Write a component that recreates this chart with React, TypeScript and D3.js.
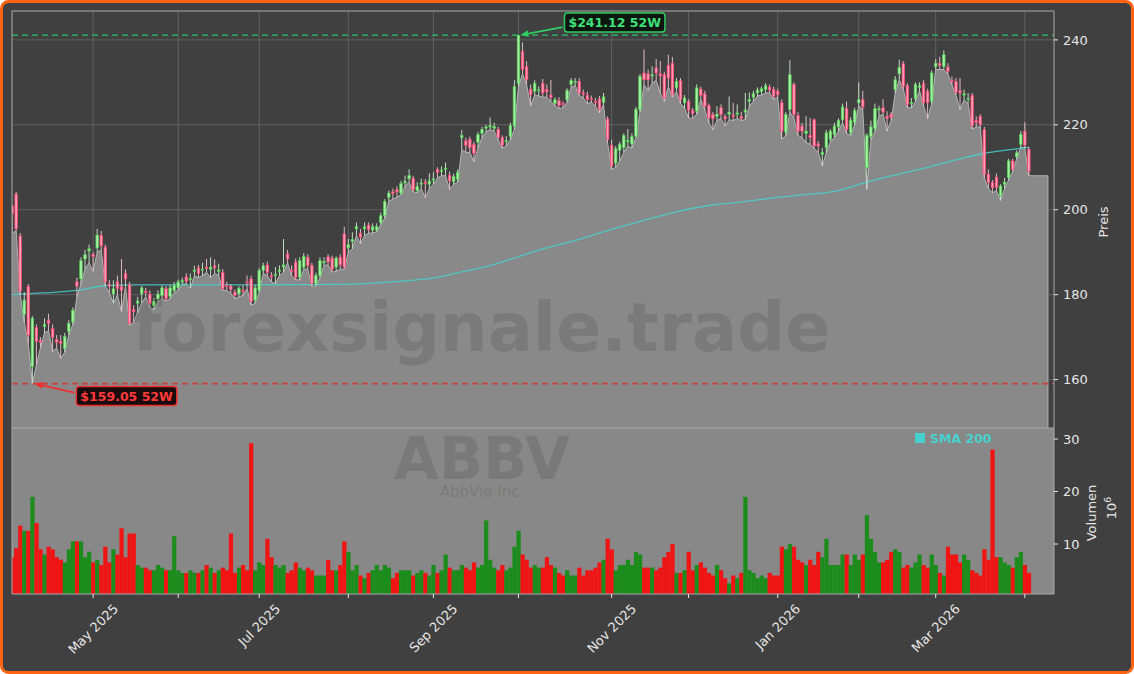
import React from 'react';
import * as d3 from 'd3';

// ---------- data (index = trading day, 2025-04-02 .. 2026-04-02) ----------
const OPEN = [200.8,203.7,193.8,175.4,181.9,163.1,172.3,169.2,172.5,174.0,172.0,169.5,169.0,167.3,171.3,173.6,183.0,183.7,188.4,190.3,
189.5,191.0,193.9,191.2,182.5,180.2,183.0,182.0,185.0,182.3,176.5,178.0,180.2,180.8,180.1,177.4,179.0,179.8,181.4,179.6,
181.0,181.6,183.0,184.2,183.5,185.5,186.3,185.8,186.5,186.0,186.8,185.5,185.2,182.2,182.0,180.6,180.2,181.0,183.0,183.7,
178.7,181.0,185.7,187.0,184.5,184.5,185.5,186.5,189.6,185.8,187.7,184.2,186.5,188.8,186.9,182.6,184.5,187.5,188.9,188.6,
186.5,188.8,194.3,191.0,192.5,195.5,194.5,195.5,196.4,195.2,195.2,197.0,198.6,202.9,204.2,204.7,203.9,206.3,207.3,207.4,
204.5,206.0,206.5,206.0,207.0,209.5,209.0,209.5,208.1,206.6,207.2,217.0,216.2,216.6,215.4,215.9,218.0,219.2,219.5,219.2,
218.9,217.0,216.0,217.3,219.7,229.8,237.3,233.7,228.4,227.9,228.0,229.8,228.3,227.0,225.0,225.7,225.0,225.9,229.5,230.0,
230.2,227.5,227.0,226.2,225.5,226.1,225.3,221.4,215.2,211.0,214.0,214.6,216.0,215.5,217.3,223.6,232.2,232.0,231.5,233.4,
232.0,231.8,234.0,234.5,228.7,230.4,225.2,225.5,223.4,223.2,228.4,227.3,224.5,222.4,222.0,224.0,221.9,222.5,222.3,222.5,
222.0,223.0,225.5,226.5,227.5,227.8,228.3,228.9,228.3,227.9,225.2,218.3,223.6,229.5,222.2,219.7,218.0,217.5,221.2,215.5,
213.0,214.6,216.6,217.7,219.5,221.2,223.8,218.1,220.6,225.2,225.9,209.9,217.2,219.1,223.5,224.0,222.0,222.5,228.3,232.0,
234.4,229.2,225.0,226.1,228.8,229.8,227.9,225.5,233.7,234.5,233.7,233.6,230.5,230.2,228.0,227.0,226.0,226.9,221.0,222.0,
218.9,208.4,206.4,207.7,203.3,206.0,207.6,211.5,212.5,215.4,218.5,214.2];
const HIGH = [201.2,204.2,194.5,180.6,182.5,175.0,173.0,170.0,174.4,175.5,173.0,170.5,170.5,171.0,174.0,177.0,184.0,188.8,190.5,191.8,
190.0,195.5,195.0,191.8,183.5,183.4,184.5,188.4,186.0,183.0,177.5,179.5,182.0,181.6,181.0,179.2,181.0,182.2,182.0,182.3,
183.0,183.5,184.0,185.0,185.0,186.8,187.0,187.5,188.4,188.8,188.3,187.3,186.0,183.0,182.5,181.2,182.0,182.2,184.5,184.5,
182.2,186.2,187.5,187.8,185.3,186.5,186.9,193.1,190.5,186.9,188.5,188.8,189.8,189.5,187.5,185.2,188.8,188.8,189.5,189.2,
189.0,189.5,196.0,193.1,194.7,197.0,195.5,197.0,197.0,196.8,196.8,199.3,202.5,204.5,205.0,205.5,206.8,208.0,209.5,208.0,
206.5,207.3,207.2,208.6,208.8,210.0,210.2,211.1,209.0,208.5,209.5,218.8,217.0,217.2,216.0,218.3,219.5,220.0,221.7,220.5,
219.5,217.5,217.3,220.5,230.5,241.12,239.4,235.0,229.5,230.5,229.0,230.8,229.5,230.6,226.5,226.5,225.5,228.6,231.0,231.0,
231.0,228.3,227.8,226.9,226.3,226.8,227.5,222.0,216.5,215.0,216.0,218.0,219.0,218.0,224.2,232.0,237.7,233.0,233.8,235.5,
235.0,232.5,236.5,236.0,231.0,231.0,227.0,226.0,224.0,229.5,229.0,228.0,225.0,223.0,224.4,224.8,222.5,226.7,225.2,224.8,
223.0,227.5,227.6,228.0,228.8,229.0,229.8,229.5,229.0,228.5,226.0,223.0,235.2,230.0,223.0,220.5,222.0,221.6,221.5,216.2,
214.6,218.8,219.0,220.5,221.5,225.0,225.5,221.8,224.0,230.0,228.0,218.0,221.0,225.0,224.5,226.0,223.2,223.0,231.5,235.3,
235.0,229.8,226.3,230.0,230.0,230.5,228.5,232.8,235.5,236.0,237.5,234.5,231.4,231.0,231.0,228.3,227.5,227.5,222.0,222.5,
219.5,209.5,207.0,208.5,206.0,207.5,212.0,212.0,214.0,218.5,220.6,214.8];
const LOW = [194.5,195.0,180.0,173.5,168.5,159.05,163.5,167.5,171.0,171.5,166.6,167.5,165.0,166.5,170.5,173.0,179.5,182.5,186.0,187.5,
185.5,190.0,190.5,182.0,180.5,178.0,180.0,176.0,182.0,172.8,173.5,176.0,178.0,179.5,177.0,176.5,178.3,179.0,178.5,179.0,
180.5,181.0,182.5,182.5,181.5,184.5,184.0,184.5,185.3,184.0,185.0,184.5,181.0,181.0,180.3,179.0,179.5,179.8,181.4,177.5,
178.0,180.5,185.0,184.5,183.0,182.6,184.5,185.3,187.5,184.5,183.5,183.5,186.0,186.0,182.0,182.0,184.0,186.9,187.0,185.3,
185.5,186.0,186.0,190.0,190.8,193.9,192.0,193.9,194.5,194.5,194.8,196.5,198.0,202.0,202.5,203.0,203.5,205.5,206.5,204.2,
204.0,205.0,202.8,205.0,206.0,207.5,208.0,208.0,204.8,206.0,206.5,214.2,213.5,213.5,211.3,214.5,217.0,218.3,218.9,218.5,
216.5,214.5,215.0,216.5,219.0,229.0,232.0,229.5,224.5,227.0,226.8,226.5,226.5,225.5,224.5,223.8,224.0,225.3,228.8,229.3,
227.0,226.3,225.0,225.3,224.4,222.8,224.8,215.8,209.5,210.0,211.5,213.5,215.0,214.5,217.0,223.0,229.5,228.0,229.8,230.5,
227.5,225.5,229.0,226.5,227.8,225.0,224.0,221.6,221.5,222.5,226.0,223.5,220.5,218.8,221.0,221.5,219.7,221.2,221.0,221.5,
221.0,221.2,224.4,225.5,226.8,227.0,227.5,227.5,226.0,226.5,216.6,217.5,223.0,221.5,217.5,217.0,215.8,215.4,214.5,213.5,
210.3,213.5,216.0,217.0,218.5,220.5,218.0,217.5,220.0,224.5,223.5,204.8,216.5,218.5,222.0,222.5,218.5,221.0,227.5,230.6,
228.5,224.0,224.0,225.5,228.0,224.5,221.4,225.0,233.0,233.0,233.0,232.0,229.5,227.0,223.6,225.9,225.0,219.0,219.5,219.5,
207.5,205.0,204.0,204.5,202.2,205.0,207.0,209.0,212.0,214.8,214.5,208.0];
const CLOSE = [199.0,195.5,180.9,178.7,170.5,174.4,169.0,168.8,173.0,173.2,170.0,168.8,168.5,170.2,173.2,176.3,182.0,188.0,189.4,190.8,
189.0,194.0,191.5,183.0,182.0,181.4,181.5,181.0,183.7,173.2,176.0,178.5,181.6,180.5,177.9,178.4,180.1,181.6,179.0,181.6,
182.2,183.0,183.3,183.1,183.8,185.8,185.0,186.0,186.2,186.5,186.3,185.8,181.4,182.0,181.2,179.8,181.5,180.8,182.8,178.4,
181.6,185.7,186.8,185.2,184.2,184.8,185.8,187.0,188.4,185.5,184.0,188.0,189.0,186.9,182.6,184.5,188.0,187.8,187.7,186.0,
188.6,187.0,186.5,191.8,193.0,196.0,193.5,196.0,195.3,196.0,196.0,198.6,201.9,203.9,203.8,204.2,206.2,206.7,208.1,204.7,
205.5,206.3,206.2,206.8,207.3,208.8,209.3,209.8,206.8,207.8,208.8,217.5,215.2,214.6,213.3,217.7,218.9,219.5,219.8,219.6,
217.0,215.2,216.3,219.8,229.0,241.0,233.0,230.6,227.1,229.7,228.2,227.5,227.8,226.5,225.9,224.5,224.8,228.1,230.4,230.2,
227.5,227.2,226.0,226.0,225.2,223.6,226.6,216.6,210.3,214.4,215.4,217.5,216.3,217.2,223.6,231.4,230.6,230.6,231.8,232.2,
231.5,226.3,231.0,227.1,230.2,225.9,226.3,223.4,222.7,228.7,226.9,224.4,221.6,221.4,222.5,222.4,221.4,223.0,222.0,222.8,
221.5,223.5,226.0,227.3,228.2,228.5,229.2,228.2,226.7,227.1,218.5,222.4,231.8,222.4,218.5,218.5,218.5,217.0,215.0,215.0,
213.5,218.1,218.5,219.7,221.0,224.2,218.9,221.0,223.4,225.9,224.2,217.5,219.5,223.8,223.8,223.0,221.5,221.8,230.6,233.5,
229.1,224.8,225.3,229.5,229.2,225.2,225.2,232.2,234.5,234.0,236.5,232.6,230.2,227.7,227.5,227.3,226.2,219.8,220.5,220.0,
208.4,206.4,205.2,205.2,205.6,206.5,211.5,209.5,213.4,217.7,215.2,209.1];
// volume in millions
const VOLUME = [7.5,9.2,13.5,12.5,12.5,19,14,9,8,9.5,9,7.5,7,6.5,9,10.5,10.5,10.5,7.5,8.5,
6.5,7,6,9.5,6.5,9,8,13,7.5,12,12,6,5.5,5.5,5,5,6,5.5,5,5,
11.5,5,4.5,4.5,5,4.5,4.5,5,6,5.5,4.5,5,5.5,5,12,4.5,5.5,6,5,29.2,
5,6.5,6,11,7.5,6,5.5,6,4.5,5,6.5,5.5,5,5.5,5,4,4,4,7,5,
5,6,10.5,8.5,5,6,4,3.5,4.5,5,6,5,6,5.5,3.5,4.5,5,5,5,4,
4.5,5,4.5,4,6,4.5,5,8,5.5,5,5,6,5.5,5,6.5,5.5,6,14.5,7,5.5,
5,6,5,5.5,9.5,12.5,8,7,5.5,6,5.5,5.5,7.5,6,5.5,4.5,4,5,4,4,
5.5,4,5,5,5.5,6.5,7,11,9,5,6,6,7,6,8.5,8,5.5,5.5,5.5,5,
5.5,7.5,8.5,10,4.5,4.5,5,8.5,5,6,6.5,5.5,4.5,4,6,5,3.5,2.5,4,3.5,
4.5,19,5,4.5,3.5,4,3.5,4.5,4,4,9.5,9,10,9.5,7,6.5,6,7,6,8.5,
7.5,11,6,6,6,8,8,6,8,7,8,15.5,11,8.5,6.5,6.5,7,8.5,9,8.5,
5.5,6,5.5,6.5,8,6,5.5,8,6,4.5,4,9.5,8,8,6.5,8,7,5,4.5,4,
9,7,28,7.5,7.5,6.5,6,5.5,7.5,8.5,6,4.5];
// SMA 200 read at sample days
const SMA_IDX = [0,8,16,23,30,40,60,80,90,100,104,112,117,124,130,140,148,156,164,172,180,188,196,203,211,218,226,234,240,246,251];
const SMA_VAL = [180.0,180.4,181.0,182.1,182.3,182.3,182.3,182.4,182.8,183.5,183.9,185.6,186.6,188.6,190.5,193.0,195.4,197.5,199.5,201.0,201.8,202.8,203.6,204.3,206.5,208.2,210.0,212.0,213.3,214.1,214.7];
const MONTH_TICK_IDX = [20,41,61,83,104,125,148,167,189,209,228,250];
const MONTH_TICK_LABEL = ['May 2025','','Jul 2025','','Sep 2025','','Nov 2025','','Jan 2026','','Mar 2026',''];
const PRICE_TICKS = [160,180,200,220,240];
const VOL_TICKS = [10,20,30];
const HIGH_52W = { idx: 125, value: 241.12, label: '$241.12 52W' };
const LOW_52W = { idx: 5, value: 159.05, label: '$159.05 52W' };
const FILL_END_IDX = 255.7;
const X_DOMAIN = [0, 257.2];
const PRICE_DOMAIN = [148.6, 246.8];
const VOL_DOMAIN = [0.48, 32.1];

const FONT = '"DejaVu Sans", Verdana, sans-serif';

function textWidth(s: string, font: string): number {
  const c = document.createElement('canvas').getContext('2d');
  if (!c) return s.length * 7.5;
  c.font = font;
  return c.measureText(s).width;
}

export default function App() {
  const W = 1134, H = 674;
  const L = 12, R = 1054, PT = 11, PB = 428, VT = 428, VB = 594;
  const x = d3.scaleLinear().domain(X_DOMAIN).range([12.1, R]);
  const yP = d3.scaleLinear().domain(PRICE_DOMAIN).range([PB, PT]);
  const yV = d3.scaleLinear().domain(VOL_DOMAIN).range([VB, VT]);
  const step = x(1) - x(0);
  const bodyW = step * 0.62;

  const n = CLOSE.length;
  const idx = d3.range(n);
  const lastLow = LOW[n - 1];

  const fillPts: [number, number][] = idx.map(i => [x(i), yP(LOW[i])]);
  fillPts.push([x(FILL_END_IDX), yP(lastLow)]);
  const areaPath = d3.area<[number, number]>().x(d => d[0]).y0(PB).y1(d => d[1])(fillPts) || '';
  const edgePts = [...fillPts, [x(FILL_END_IDX), PB] as [number, number]];
  const edgePath = d3.line()(edgePts) || '';

  const smaPath = d3.line<number>().x((_, k) => x(SMA_IDX[k])).y(v => yP(v)).curve(d3.curveMonotoneX)(SMA_VAL) || '';

  const green = '#1c8c1c', red = '#f01414';
  const hiX = x(HIGH_52W.idx), hiY = yP(HIGH_52W.value);
  const loX = x(LOW_52W.idx), loY = yP(LOW_52W.value);

  const annFont = `bold 12.5px ${FONT}`;
  const hiW = textWidth(HIGH_52W.label, annFont) + 8;
  const loW = textWidth(LOW_52W.label, annFont) + 8;
  const hiBox = { x: hiX + 46, y: hiY - 22, w: hiW, h: 19 };
  const loBox = { x: loX + 44, y: loY + 3, w: loW, h: 19 };

  const arrow = (x1: number, y1: number, x2: number, y2: number, color: string) => {
    const a = Math.atan2(y2 - y1, x2 - x1);
    const hl = 8, hw = 3.5;
    const bx = x2 - hl * Math.cos(a), by = y2 - hl * Math.sin(a);
    const px = -Math.sin(a) * hw, py = Math.cos(a) * hw;
    return (
      <g>
        <line x1={x1} y1={y1} x2={bx} y2={by} stroke={color} strokeWidth={1.8} />
        <polygon points={`${x2},${y2} ${bx + px},${by + py} ${bx - px},${by - py}`} fill={color} />
      </g>
    );
  };

  const tickFont = `13px ${FONT}`;
  const axisColor = '#e6e6e6';

  return (
    <svg width={W} height={H} style={{ position: 'absolute', left: 0, top: 0 }} fontFamily={FONT}>
      <defs>
        <clipPath id="pclip"><rect x={L} y={PT} width={R - L} height={PB - PT} /></clipPath>
        <clipPath id="vclip"><rect x={L} y={VT} width={R - L} height={VB - VT} /></clipPath>
      </defs>
      <rect x={1.5} y={1.5} width={W - 3} height={H - 3} rx={7} fill="#404040" stroke="#ff6414" strokeWidth={3} />

      {/* price panel */}
      <g clipPath="url(#pclip)">
        {PRICE_TICKS.map(t => <line key={'hg' + t} x1={L} x2={R} y1={yP(t)} y2={yP(t)} stroke="#6a6a6a" strokeWidth={0.8} />)}
        {MONTH_TICK_IDX.map(t => <line key={'vg' + t} x1={x(t)} x2={x(t)} y1={PT} y2={PB} stroke="#6a6a6a" strokeWidth={0.8} />)}
        <path d={areaPath} fill="#898989" />
        <path d={edgePath} fill="none" stroke="#b4b4b4" strokeWidth={1} />
        <path d={smaPath} fill="none" stroke="#48d1cc" strokeWidth={1.3} opacity={0.85} />
        <line x1={L} x2={R} y1={hiY} y2={hiY} stroke="#2fa860" strokeWidth={1.6} strokeDasharray="6,4" opacity={0.9} />
        <line x1={L} x2={R} y1={loY} y2={loY} stroke="#d23a3a" strokeWidth={1.6} strokeDasharray="6,4" opacity={0.9} />
        {idx.map(i => {
          const up = CLOSE[i] >= OPEN[i];
          const top = yP(Math.max(OPEN[i], CLOSE[i]));
          const bot = yP(Math.min(OPEN[i], CLOSE[i]));
          const cx = x(i);
          return (
            <g key={'c' + i}>
              <line x1={cx} x2={cx} y1={yP(HIGH[i])} y2={yP(LOW[i])} stroke={up ? '#cfeccf' : '#f0c8d2'} strokeWidth={0.9} />
              <rect x={cx - bodyW / 2} y={top} width={bodyW} height={Math.max(bot - top, 0.9)}
                fill={up ? '#a8f0a8' : '#ff9db5'} stroke={up ? '#4fd04f' : '#ff3f6e'} strokeWidth={0.7} />
            </g>
          );
        })}
        <text x={481.5} y={351} textAnchor="middle" fontSize={67} fontWeight="bold" fill="#000" opacity={0.1}>forexsignale.trade</text>
      </g>
      <line x1={L} x2={L} y1={PT} y2={PB} stroke="#aaaaaa" strokeWidth={1} />
      <line x1={R} x2={R} y1={PT} y2={PB} stroke="#aaaaaa" strokeWidth={1} />
      <line x1={L} x2={R} y1={PT} y2={PT} stroke="#aaaaaa" strokeWidth={1} />

      {/* annotations */}
      {arrow(hiBox.x - 2, hiBox.y + 14, hiX + 2, hiY, '#2ecc61')}
      <rect x={hiBox.x} y={hiBox.y} width={hiBox.w} height={hiBox.h} rx={3} fill="#0e1610" stroke="#2ecc61" strokeWidth={1.5} />
      <text x={hiBox.x + hiBox.w / 2} y={hiBox.y + 14} textAnchor="middle" fontSize={12.5} fontWeight="bold" fill="#3ee07a">{HIGH_52W.label}</text>
      {arrow(loBox.x - 2, loBox.y + 6, loX + 2, loY, '#f03030')}
      <rect x={loBox.x} y={loBox.y} width={loBox.w} height={loBox.h} rx={3} fill="#1a0c0c" stroke="#f03030" strokeWidth={1.5} />
      <text x={loBox.x + loBox.w / 2} y={loBox.y + 14} textAnchor="middle" fontSize={12.5} fontWeight="bold" fill="#ff3a3a">{LOW_52W.label}</text>

      {/* volume panel */}
      <rect x={L} y={VT} width={R - L} height={VB - VT} fill="#888888" />
      <g clipPath="url(#vclip)">
        {idx.map(i => (
          <rect key={'v' + i} x={x(i) - step / 2} y={yV(VOLUME[i])} width={step + 0.2} height={VB - yV(VOLUME[i])}
            fill={CLOSE[i] >= OPEN[i] ? green : red} />
        ))}
        <text x={482} y={479} textAnchor="middle" fontSize={58} fontWeight="bold" fill="#000" opacity={0.1}>ABBV</text>
        <text x={482} y={497} textAnchor="middle" fontSize={15} fill="#000" opacity={0.1}>AbbVie Inc.</text>
      </g>
      <line x1={L} x2={R} y1={PB} y2={PB} stroke="#a8a8a8" strokeWidth={1.2} />
      <line x1={L} x2={L} y1={VT} y2={VB} stroke="#aaaaaa" strokeWidth={1} />
      <line x1={R} x2={R} y1={VT} y2={VB} stroke="#aaaaaa" strokeWidth={1} />
      <line x1={L} x2={R} y1={VB} y2={VB} stroke="#aaaaaa" strokeWidth={1} />

      {/* legend */}
      <rect x={915} y={433} width={10} height={10} fill="#48d1cc" />
      <text x={930} y={443} fontSize={12.5} fontWeight="bold" fill="#48d1cc">SMA 200</text>

      {/* price axis */}
      {PRICE_TICKS.map(t => (
        <g key={'pt' + t}>
          <line x1={R} x2={R + 4} y1={yP(t)} y2={yP(t)} stroke={axisColor} strokeWidth={1} />
          <text x={R + 9} y={yP(t)} dy="0.36em" fontSize={13} fill={axisColor}>{t}</text>
        </g>
      ))}
      <text transform={`translate(1108,222) rotate(-90)`} textAnchor="middle" fontSize={13} fill={axisColor}>Preis</text>

      {/* volume axis */}
      {VOL_TICKS.map(t => (
        <g key={'vt' + t}>
          <line x1={R} x2={R + 4} y1={yV(t)} y2={yV(t)} stroke={axisColor} strokeWidth={1} />
          <text x={R + 9} y={yV(t)} dy="0.36em" fontSize={13} fill={axisColor}>{t}</text>
        </g>
      ))}
      <text transform={`translate(1096,513) rotate(-90)`} textAnchor="middle" fontSize={13} fill={axisColor}>Volumen</text>
      <text transform={`translate(1116,508) rotate(-90)`} textAnchor="middle" fontSize={13} fill={axisColor}>10<tspan dy="-5" fontSize={9.5}>6</tspan></text>

      {/* x axis */}
      {MONTH_TICK_IDX.map((t, k) => {
        const lbl = MONTH_TICK_LABEL[k];
        const w = lbl ? textWidth(lbl, tickFont) : 0;
        const cy = 601 + ((w + 15) * Math.SQRT1_2) / 2;
        return (
          <g key={'xt' + t}>
            <line x1={x(t)} x2={x(t)} y1={VB} y2={VB + 4} stroke={axisColor} strokeWidth={1} />
            {lbl && (
              <text transform={`translate(${x(t)},${cy}) rotate(-45)`} textAnchor="middle" dy="0.35em" fontSize={13} fill={axisColor}>{lbl}</text>
            )}
          </g>
        );
      })}
    </svg>
  );
}
